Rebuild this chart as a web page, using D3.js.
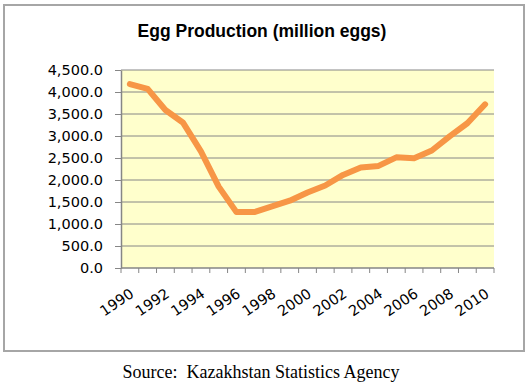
<!DOCTYPE html>
<html>
<head>
<meta charset="utf-8">
<script src="https://cdn.jsdelivr.net/npm/d3@7"></script>
<style>
  body { margin: 0; background: #fff; }
  .axis path, .axis line { stroke: #868686; }
  .axis text { font-family: "DejaVu Sans", sans-serif; font-size: 14.5px; fill: #000; }
</style>
</head>
<body>
<div class="chart"></div>
<script>
var svgWidth = 530;
var svgHeight = 387;

// data
var years = [1990, 1991, 1992, 1993, 1994, 1995, 1996, 1997, 1998, 1999, 2000,
             2001, 2002, 2003, 2004, 2005, 2006, 2007, 2008, 2009, 2010];
var eggs = [4180, 4070, 3590, 3300, 2650, 1850, 1270, 1270, 1400, 1530, 1715,
            1875, 2115, 2285, 2320, 2515, 2495, 2670, 2990, 3290, 3720];
var yTicks = [0, 500, 1000, 1500, 2000, 2500, 3000, 3500, 4000, 4500];
var xLabels = [1990, 1992, 1994, 1996, 1998, 2000, 2002, 2004, 2006, 2008, 2010];

var plot = { left: 121, right: 494, top: 70, bottom: 268 };

var svg = d3.select(".chart")
  .append("svg")
  .attr("width", svgWidth)
  .attr("height", svgHeight);

// outer chart frame
svg.append("rect")
  .attr("x", 4)
  .attr("y", 5)
  .attr("width", 520)
  .attr("height", 346)
  .attr("fill", "#fff")
  .attr("stroke", "#a6a6a6")
  .attr("stroke-width", 2);

svg.append("text")
  .attr("x", 262)
  .attr("y", 37)
  .attr("text-anchor", "middle")
  .style("font-family", "'Liberation Sans', Arial, sans-serif")
  .style("font-weight", "bold")
  .style("font-size", "17.5px")
  .text("Egg Production (million eggs)");

var xScale = d3.scaleBand()
  .domain(years)
  .range([plot.left, plot.right])
  .padding(0);

var yScale = d3.scaleLinear()
  .domain([0, 4500])
  .range([plot.bottom, plot.top]);

// plot area background
svg.append("rect")
  .attr("x", plot.left)
  .attr("y", plot.top)
  .attr("width", plot.right - plot.left)
  .attr("height", plot.bottom - plot.top)
  .attr("fill", "#ffffcc");

// gridlines
svg.append("g")
  .selectAll("line")
  .data(yTicks.slice(1))
  .enter().append("line")
    .attr("x1", plot.left)
    .attr("x2", plot.right)
    .attr("y1", function(d) { return yScale(d); })
    .attr("y2", function(d) { return yScale(d); })
    .attr("stroke", "#868686")
    .attr("stroke-width", 1);

var leftAxis = d3.axisLeft(yScale)
  .tickValues(yTicks)
  .tickFormat(d3.format(",.1f"))
  .tickSize(6)
  .tickSizeOuter(0)
  .tickPadding(12);

svg.append("g")
  .attr("class", "axis")
  .attr("transform", "translate(" + plot.left + ",0)")
  .call(leftAxis)
  .call(function(g) { g.select(".domain").attr("stroke-width", 1.5); });

// x axis: line + tick marks at category boundaries
var bw = xScale.bandwidth();
var xAxis = svg.append("g").attr("class", "axis");
xAxis.append("line")
  .attr("x1", plot.left)
  .attr("x2", plot.right)
  .attr("y1", plot.bottom)
  .attr("y2", plot.bottom)
  .attr("stroke-width", 1.5);
xAxis.selectAll(".tk")
  .data(years.concat([null]))
  .enter().append("line")
    .attr("class", "tk")
    .attr("x1", function(d) { return d === null ? plot.right : xScale(d); })
    .attr("x2", function(d) { return d === null ? plot.right : xScale(d); })
    .attr("y1", plot.bottom)
    .attr("y2", plot.bottom + 5);
xAxis.selectAll("text")
  .data(xLabels)
  .enter().append("text")
    .attr("text-anchor", "end")
    .attr("transform", function(d) {
      return "translate(" + (xScale(d) + bw / 2 + 5) + "," + 296 + ") rotate(-34)";
    })
    .text(function(d) { return d; });

var line = d3.line()
  .x(function(d, i) { return xScale(years[i]) + bw / 2; })
  .y(function(d) { return yScale(d); });

svg.append("path")
  .datum(eggs)
  .attr("d", line)
  .attr("fill", "none")
  .attr("stroke", "#f79646")
  .attr("stroke-width", 6)
  .attr("stroke-linejoin", "round")
  .attr("stroke-linecap", "round");

svg.append("text")
  .attr("x", 261)
  .attr("y", 378)
  .attr("text-anchor", "middle")
  .style("font-family", "'Liberation Serif', 'Times New Roman', serif")
  .style("font-size", "18px")
  .attr("xml:space", "preserve")
  .text("Source:  Kazakhstan Statistics Agency");
</script>
</body>
</html>
